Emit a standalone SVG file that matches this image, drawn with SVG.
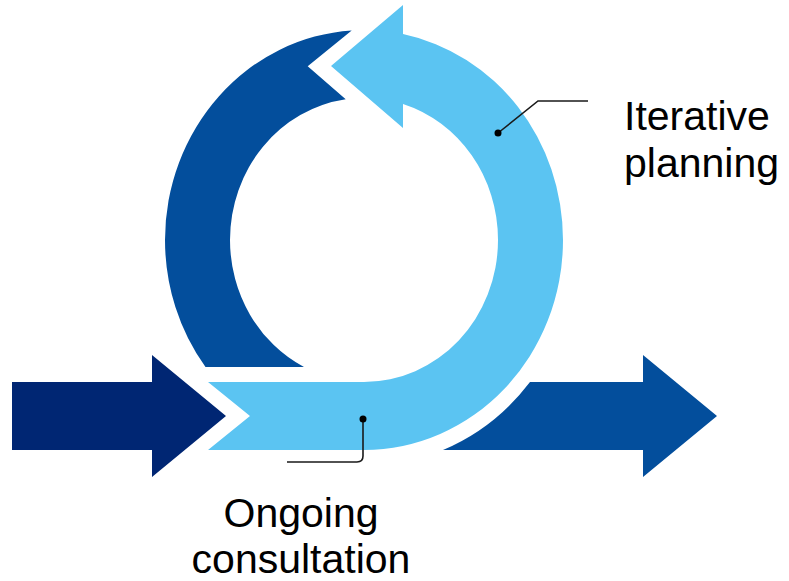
<svg xmlns="http://www.w3.org/2000/svg" width="789" height="581" viewBox="0 0 789 581">
  <style>
    .navy { fill: #002673; }
    .dark { fill: #034E9C; }
    .light { fill: #5BC4F2; }
    .lbl { font-family: "Liberation Sans", Arial, sans-serif; font-size: 41px; fill: #000000; }
    .lead { fill: none; stroke: #1a1a1a; stroke-width: 1.6; }
    .dot { fill: #000000; }
  </style>
  <rect width="789" height="581" fill="#ffffff"/>
  <g id="input-arrow">
    <path class="navy" d="M12 382 L152 382 L152 355 L226 416 L152 477 L152 450 L12 450 Z"/>
  </g>
  <g id="left-arc">
    <path class="dark" d="M351.7 30.4 A199 210 0 0 0 165 240 A199 210 0 0 0 205.5 367 L304 367 A134 142 0 0 1 230 240 A134 142 0 0 1 345.7 99.3 L307.7 66.3 Z"/>
  </g>
  <g id="iterative-loop">
    <path class="light" d="M331 66 L403 5 L403 34.1 A199 210 0 0 1 563 240 A199 210 0 0 1 364 450 L208 450 L250 416 L208 382 L364 382 A134 142 0 0 0 498 240 A134 142 0 0 0 403 104 L403 128 Z"/>
  </g>
  <g id="output-arrow">
    <path class="dark" d="M530 382 L643 382 L643 355 L717 416 L643 477 L643 450 L443 450 A213 226 0 0 0 530 382 Z"/>
  </g>
  <g id="connectors">
    <path class="lead" d="M498 133 L538 101 L588 101"/>
    <circle class="dot" cx="498" cy="133" r="3.5"/>
    <path class="lead" d="M363 419 L363 456 Q363 462 357 462 L287 462"/>
    <circle class="dot" cx="363" cy="419" r="3.5"/>
  </g>
  <g id="label-iterative">
    <text class="lbl" x="624" y="130">Iterative</text>
    <text class="lbl" x="624" y="177">planning</text>
  </g>
  <g id="label-ongoing">
    <text class="lbl" x="301" y="527" text-anchor="middle">Ongoing</text>
    <text class="lbl" x="301" y="573" text-anchor="middle">consultation</text>
  </g>
</svg>
